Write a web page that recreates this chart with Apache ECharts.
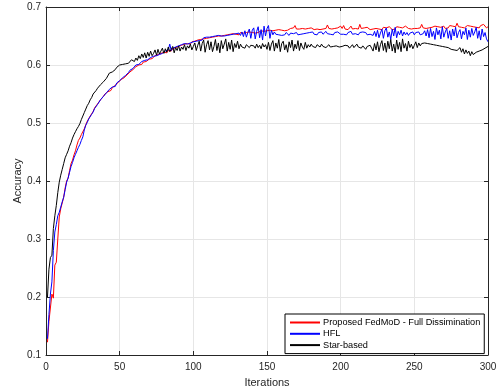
<!DOCTYPE html>
<html>
<head>
<meta charset="utf-8">
<script src="https://cdn.jsdelivr.net/npm/echarts@6/dist/echarts.min.js"></script>
<style>html,body{margin:0;padding:0;background:#fff}#c{width:502px;height:391px}</style>
</head>
<body>
<div id="c"></div>
<script>
const seriesNames = ['Proposed FedMoD - Full Dissimination', 'HFL', 'Star-based'];
const xTicks = [0, 50, 100, 150, 200, 250, 300];
const yTicks = [0.1, 0.2, 0.3, 0.4, 0.5, 0.6, 0.7];

const fedmod = [
0.122,0.158,0.157,0.205,0.198,0.255,0.260,0.300,0.338,0.352,
0.362,0.372,0.388,0.400,0.405,0.418,0.430,0.436,0.445,0.452,
0.462,0.470,0.474,0.480,0.483,0.490,0.497,0.503,0.506,0.512,
0.516,0.520,0.526,0.528,0.533,0.536,0.540,0.542,0.546,0.550,
0.551,0.554,0.557,0.556,0.561,0.563,0.565,0.567,0.570,0.572,
0.575,0.574,0.578,0.580,0.583,0.585,0.588,0.586,0.592,0.594,
0.597,0.596,0.600,0.602,0.601,0.605,0.607,0.606,0.609,0.610,
0.612,0.611,0.614,0.616,0.615,0.618,0.617,0.620,0.619,0.622,
0.623,0.621,0.625,0.626,0.624,0.628,0.627,0.630,0.629,0.632,
0.631,0.634,0.633,0.636,0.634,0.637,0.638,0.636,0.640,0.639,
0.641,0.640,0.643,0.641,0.644,0.642,0.645,0.644,0.646,0.645,
0.647,0.645,0.648,0.646,0.649,0.647,0.650,0.648,0.650,0.649,
0.651,0.649,0.652,0.650,0.653,0.651,0.654,0.652,0.653,0.655,
0.652,0.656,0.654,0.655,0.653,0.656,0.654,0.657,0.655,0.656,
0.657,0.655,0.658,0.656,0.657,0.659,0.656,0.658,0.657,0.659,
0.658,0.660,0.657,0.659,0.658,0.660,0.659,0.661,0.659,0.660,
0.661,0.659,0.662,0.660,0.661,0.663,0.660,0.664,0.668,0.662,
0.660,0.662,0.661,0.663,0.660,0.662,0.661,0.663,0.662,0.664,
0.662,0.661,0.663,0.662,0.664,0.661,0.663,0.662,0.660,0.663,
0.669,0.663,0.665,0.662,0.664,0.663,0.661,0.664,0.662,0.667,
0.663,0.668,0.662,0.665,0.661,0.664,0.667,0.662,0.664,0.663,
0.665,0.662,0.670,0.663,0.661,0.664,0.662,0.665,0.663,0.661,
0.664,0.662,0.665,0.663,0.666,0.662,0.664,0.661,0.665,0.663,
0.664,0.662,0.666,0.663,0.661,0.664,0.662,0.666,0.663,0.665,
0.662,0.664,0.663,0.667,0.669,0.663,0.665,0.662,0.664,0.663,
0.665,0.663,0.666,0.664,0.670,0.664,0.666,0.663,0.665,0.664,
0.662,0.665,0.663,0.667,0.664,0.666,0.663,0.665,0.664,0.667,
0.663,0.666,0.664,0.668,0.665,0.667,0.664,0.666,0.672,0.666,
0.668,0.665,0.667,0.664,0.666,0.668,0.665,0.667,0.664,0.666,
0.668,0.665,0.667,0.664,0.668,0.666,0.670,0.667,0.664,0.666
];

const hfl = [
0.128,0.170,0.205,0.226,0.280,0.312,0.325,0.340,0.346,0.355,
0.364,0.372,0.385,0.398,0.405,0.415,0.425,0.432,0.440,0.446,
0.452,0.458,0.463,0.470,0.476,0.488,0.496,0.501,0.507,0.510,
0.515,0.519,0.525,0.527,0.532,0.535,0.540,0.543,0.546,0.549,
0.552,0.553,0.558,0.557,0.562,0.565,0.563,0.569,0.571,0.573,
0.576,0.578,0.576,0.582,0.584,0.587,0.591,0.589,0.594,0.597,
0.600,0.603,0.601,0.604,0.606,0.605,0.608,0.610,0.609,0.612,
0.613,0.612,0.615,0.617,0.616,0.619,0.618,0.621,0.620,0.623,
0.624,0.622,0.626,0.636,0.625,0.629,0.628,0.631,0.630,0.633,
0.632,0.635,0.634,0.637,0.639,0.636,0.639,0.638,0.641,0.640,
0.642,0.641,0.644,0.642,0.645,0.643,0.647,0.645,0.648,0.646,
0.648,0.647,0.649,0.647,0.650,0.648,0.651,0.649,0.650,0.652,
0.650,0.653,0.651,0.654,0.652,0.655,0.653,0.651,0.654,0.652,
0.655,0.651,0.657,0.649,0.659,0.648,0.656,0.662,0.646,0.660,
0.664,0.645,0.658,0.666,0.647,0.661,0.643,0.667,0.650,0.663,
0.668,0.646,0.660,0.652,0.657,0.653,0.656,0.652,0.655,0.651,
0.654,0.652,0.656,0.653,0.651,0.655,0.652,0.654,0.653,0.656,
0.652,0.655,0.653,0.656,0.654,0.652,0.655,0.653,0.656,0.654,
0.657,0.653,0.655,0.652,0.656,0.654,0.657,0.653,0.655,0.658,
0.654,0.656,0.653,0.655,0.652,0.656,0.654,0.657,0.655,0.653,
0.656,0.653,0.655,0.652,0.656,0.654,0.658,0.653,0.656,0.654,
0.655,0.652,0.656,0.653,0.657,0.654,0.656,0.652,0.655,0.653,
0.656,0.651,0.658,0.649,0.660,0.647,0.655,0.662,0.646,0.659,
0.664,0.648,0.657,0.644,0.662,0.650,0.665,0.647,0.658,0.652,
0.660,0.650,0.657,0.652,0.656,0.651,0.655,0.653,0.657,0.652,
0.656,0.653,0.657,0.652,0.655,0.654,0.659,0.650,0.661,0.647,
0.663,0.649,0.658,0.644,0.664,0.652,0.660,0.645,0.666,0.648,
0.657,0.663,0.646,0.659,0.643,0.662,0.650,0.665,0.647,0.656,
0.661,0.645,0.658,0.652,0.664,0.644,0.660,0.648,0.663,0.651,
0.657,0.665,0.646,0.659,0.643,0.662,0.649,0.656,0.645,0.640
];

const starBased = [
0.200,0.248,0.268,0.272,0.318,0.340,0.358,0.380,0.398,0.410,
0.420,0.430,0.440,0.446,0.452,0.460,0.466,0.474,0.480,0.485,
0.490,0.494,0.499,0.506,0.512,0.518,0.524,0.530,0.534,0.540,
0.544,0.550,0.553,0.556,0.560,0.562,0.566,0.568,0.571,0.574,
0.577,0.580,0.586,0.584,0.588,0.590,0.592,0.596,0.598,0.600,
0.599,0.601,0.600,0.602,0.605,0.603,0.606,0.609,0.611,0.606,
0.612,0.608,0.616,0.611,0.619,0.613,0.621,0.612,0.622,0.615,
0.624,0.616,0.620,0.626,0.617,0.627,0.619,0.624,0.629,0.620,
0.628,0.622,0.631,0.623,0.627,0.632,0.621,0.630,0.625,0.633,
0.624,0.631,0.627,0.635,0.625,0.633,0.629,0.636,0.626,0.632,
0.638,0.625,0.634,0.641,0.624,0.637,0.643,0.622,0.635,0.642,
0.626,0.640,0.623,0.632,0.644,0.625,0.638,0.621,0.642,0.628,
0.636,0.645,0.624,0.639,0.627,0.643,0.623,0.637,0.630,0.641,
0.628,0.636,0.631,0.634,0.629,0.635,0.632,0.630,0.634,0.631,
0.633,0.629,0.636,0.630,0.634,0.628,0.637,0.631,0.635,0.627,
0.639,0.625,0.636,0.642,0.624,0.638,0.629,0.644,0.623,0.637,
0.641,0.626,0.635,0.622,0.640,0.630,0.643,0.624,0.636,0.628,
0.642,0.625,0.638,0.631,0.627,0.639,0.629,0.635,0.631,0.636,
0.632,0.634,0.630,0.635,0.633,0.631,0.636,0.632,0.634,0.630,
0.633,0.635,0.631,0.634,0.632,0.629,0.633,0.635,0.631,0.634,
0.632,0.630,0.634,0.631,0.633,0.629,0.632,0.635,0.630,0.633,
0.636,0.631,0.634,0.629,0.633,0.631,0.627,0.632,0.630,0.634,
0.629,0.624,0.637,0.626,0.640,0.623,0.635,0.642,0.625,0.638,
0.622,0.641,0.628,0.644,0.624,0.636,0.621,0.643,0.627,0.639,
0.623,0.645,0.629,0.637,0.624,0.641,0.630,0.636,0.628,0.634,
0.640,0.630,0.638,0.633,0.637,0.635,0.638,0.636,0.637,0.635,
0.636,0.634,0.635,0.633,0.634,0.632,0.633,0.631,0.632,0.630,
0.631,0.629,0.630,0.628,0.627,0.629,0.626,0.628,0.625,0.627,
0.630,0.622,0.628,0.619,0.626,0.620,0.624,0.616,0.623,0.618,
0.620,0.622,0.619,0.624,0.623,0.626,0.628,0.629,0.631,0.632
];

const iterations = fedmod.map((_, i) => i + 1);
const pairs = arr => arr.map((v, i) => [iterations[i], v]);

const FONT = 'Liberation Sans, Arial, sans-serif';
const AX = '#262626';
const GRID = '#e6e6e6';

const chart = echarts.init(document.getElementById('c'), null, {renderer: 'canvas'});
const xBase = {
  type: 'value', min: xTicks[0], max: xTicks[xTicks.length - 1], interval: 50,
  axisLine: {show: true, onZero: false, lineStyle: {color: AX, width: 1}},
  axisTick: {show: true, inside: true, length: 4, lineStyle: {color: AX}},
  splitLine: {show: false}
};
const yBase = {
  type: 'value', min: yTicks[0], max: yTicks[yTicks.length - 1], interval: 0.1,
  axisLine: {show: true, onZero: false, lineStyle: {color: AX, width: 1}},
  axisTick: {show: true, inside: true, length: 4, lineStyle: {color: AX}},
  splitLine: {show: false}
};
chart.setOption({
  animation: false,
  backgroundColor: '#fff',
  grid: {left: 46, right: 14, top: 7, bottom: 36, containLabel: false, outerBoundsMode: 'none'},
  xAxis: [
    Object.assign({}, xBase, {
      position: 'bottom',
      name: 'Iterations', nameLocation: 'middle', nameGap: 22,
      nameTextStyle: {color: AX, fontFamily: FONT, fontSize: 11},
      axisLabel: {color: AX, fontFamily: FONT, fontSize: 10, margin: 7},
      splitLine: {show: true, lineStyle: {color: GRID, width: 1}}
    }),
    Object.assign({}, xBase, {position: 'top', axisLabel: {show: false}})
  ],
  yAxis: [
    Object.assign({}, yBase, {
      position: 'left',
      name: 'Accuracy', nameLocation: 'middle', nameGap: 23, nameMoveOverlap: false,
      nameTextStyle: {color: AX, fontFamily: FONT, fontSize: 11},
      axisLabel: {color: AX, fontFamily: FONT, fontSize: 10, margin: 5,
        formatter: v => v.toFixed(1)},
      splitLine: {show: true, lineStyle: {color: GRID, width: 1}}
    }),
    Object.assign({}, yBase, {position: 'right', axisLabel: {show: false}})
  ],
  legend: {
    data: seriesNames,
    orient: 'vertical',
    left: 285, top: 314,
    backgroundColor: '#fff',
    borderColor: '#000', borderWidth: 1,
    padding: [3, 4, 3, 5],
    itemWidth: 30, itemHeight: 2, itemGap: 0.3,
    icon: 'rect',
    textStyle: {color: '#000', fontFamily: FONT, fontSize: 9.2, lineHeight: 11, padding: [0, 0, 0, -2]}
  },
  series: [
    {name: seriesNames[0], type: 'line', data: pairs(fedmod), showSymbol: false, symbol: 'none',
      lineStyle: {color: '#ff0000', width: 1}, itemStyle: {color: '#ff0000'}},
    {name: seriesNames[1], type: 'line', data: pairs(hfl), showSymbol: false, symbol: 'none',
      lineStyle: {color: '#0000ff', width: 1}, itemStyle: {color: '#0000ff'}},
    {name: seriesNames[2], type: 'line', data: pairs(starBased), showSymbol: false, symbol: 'none',
      lineStyle: {color: '#000000', width: 1}, itemStyle: {color: '#000000'}}
  ]
});
</script>
</body>
</html>
